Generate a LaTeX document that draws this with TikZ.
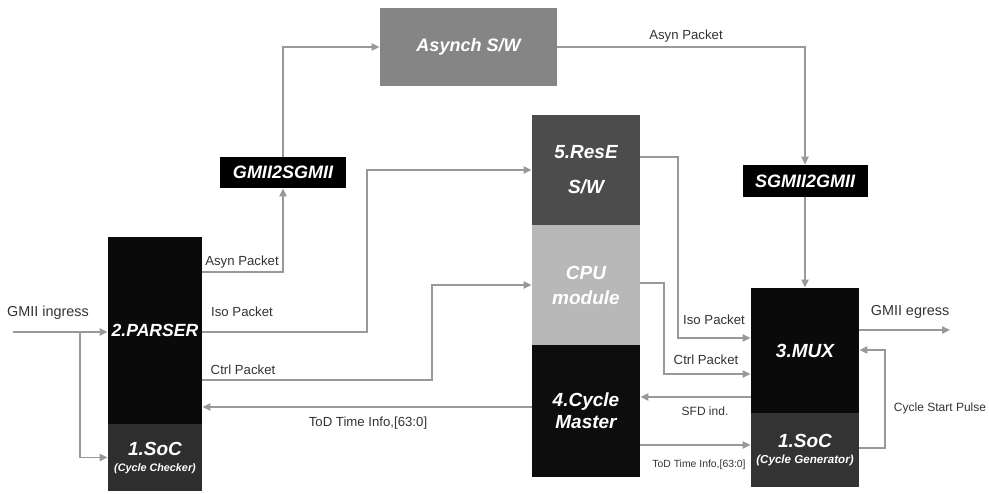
\documentclass[tikz,border=0pt]{standalone}
\usepackage{fontspec}
\setmainfont{Liberation Sans}
\usetikzlibrary{arrows.meta, positioning}

\begin{document}
\begin{tikzpicture}[
    x=0.5pt, y=-0.5pt,
    % box styles
    blk/.style    = {rectangle, inner sep=0pt, text=white, align=center,
                     font=\fontsize{9.5}{11}\selectfont\bfseries\itshape},
    tag/.style    = {rectangle, inner sep=0pt, fill=black, text=white,
                     font=\fontsize{9}{10}\selectfont\bfseries\itshape},
    lbl/.style    = {inner sep=0pt, text=black!80, font=\fontsize{6.6}{7}\selectfont},
    arr/.style    = {-{Triangle[length=4pt, width=3.6pt]}, line width=0.8pt, draw=black!40},
]
\useasboundingbox (0,0) rectangle (989,493);

% ── Left column : parser ─────────────────────────────────────────────────────
\node[blk, fill=black!96, minimum width=47pt, minimum height=93.5pt,
      font=\fontsize{8.8}{10}\selectfont\bfseries\itshape] (parser) at (155,330.5)
    {2.PARSER};
\node[blk, fill=black!82, minimum width=47pt, minimum height=33.5pt] (socl) at (155,457.5)
    {1.SoC\\[-3pt]{\fontsize{5.4}{6}\selectfont(Cycle Checker)}};

% ── Converters and asynch switch ─────────────────────────────────────────────
\node[tag, minimum width=63pt, minimum height=15.5pt] (g2s) at (283,172.5) {GMII2SGMII};
\node[blk, fill=black!48, minimum width=88.5pt, minimum height=39pt,
      font=\fontsize{9}{10}\selectfont\bfseries\itshape] (asw) at (468.5,47) {Asynch S/W};
\node[tag, minimum width=62.5pt, minimum height=16pt] (s2g) at (805,181) {SGMII2GMII};

% ── Middle column : ResE, CPU, cycle master ──────────────────────────────────
\node[blk, fill=black!70, minimum width=54pt, minimum height=55pt,
      font=\fontsize{9.5}{17.5}\selectfont\bfseries\itshape] (rese) at (586,170)
    {5.ResE\\S/W};
\node[blk, fill=black!28, minimum width=54pt, minimum height=60pt,
      font=\fontsize{9.5}{12.5}\selectfont\bfseries\itshape] (cpu) at (586,285)
    {CPU\\module};
\node[blk, fill=black!95, minimum width=54pt, minimum height=66pt] (cm) at (586,411)
    {4.Cycle\\Master};

% ── Right column : MUX ───────────────────────────────────────────────────────
\node[blk, fill=black!96, minimum width=54pt, minimum height=62.5pt] (mux) at (805,350.5)
    {3.MUX};
\node[blk, fill=black!80, minimum width=54pt, minimum height=37pt] (socr) at (805,450)
    {1.SoC\\[-3pt]{\fontsize{5.8}{6}\selectfont(Cycle Generator)}};

% ── Free ends ────────────────────────────────────────────────────────────────
\coordinate (ingress) at (13,332);
\coordinate (branch)  at (80,332);
\coordinate (egress)  at (950,330);

% ── Arrows ───────────────────────────────────────────────────────────────────
\draw[arr] (ingress) -- (ingress -| parser.west);
\draw[arr] (branch) |- (socl.west);
\draw[arr] (parser.east |- 0,272) -| (g2s.south);
\draw[arr] (g2s.north) |- (asw.west);
\draw[arr] (asw.east) -| (s2g.north);
\draw[arr] (s2g.south) -- (mux.north);
\draw[arr] (parser.east |- 0,332) -| (367,250) |- (rese.west);
\draw[arr] (parser.east |- 0,380) -| (432,330) |- (cpu.west);
\draw[arr] (cm.west |- 0,407) -- (parser.east |- 0,407);
\draw[arr] (rese.east |- 0,157) -| (678,250) |- (mux.west |- 0,338);
\draw[arr] (cpu.east |- 0,283) -| (664,330) |- (mux.west |- 0,374);
\draw[arr] (mux.west |- 0,397) -- (cm.east |- 0,397);
\draw[arr] (cm.east |- 0,445) -- (socr.west |- 0,445);
\draw[arr] (mux.east |- 0,330) -- (egress);
\draw[arr] (socr.east |- 0,448) -| (885,400) |- (mux.east |- 0,350);

% ── Labels ───────────────────────────────────────────────────────────────────
\node[lbl, font=\fontsize{7.2}{8}\selectfont] at (48,313) {GMII ingress};
\node[lbl] at (242,262) {Asyn Packet};
\node[lbl] at (242,312) {Iso Packet};
\node[lbl] at (243,370) {Ctrl Packet};
\node[lbl] at (368,423) {ToD Time Info,[63:0]};
\node[lbl] at (686,36)  {Asyn Packet};
\node[lbl] at (714,320) {Iso Packet};
\node[lbl] at (706,360) {Ctrl Packet};
\node[lbl, font=\fontsize{6}{7}\selectfont] at (705,411) {SFD ind.};
\node[lbl, font=\fontsize{5.2}{6}\selectfont] at (699,465) {ToD Time Info,[63:0]};
\node[lbl, font=\fontsize{7.2}{8}\selectfont] at (910,312) {GMII egress};
\node[lbl, font=\fontsize{6}{7}\selectfont] at (940,408) {Cycle Start Pulse};

\end{tikzpicture}
\end{document}
